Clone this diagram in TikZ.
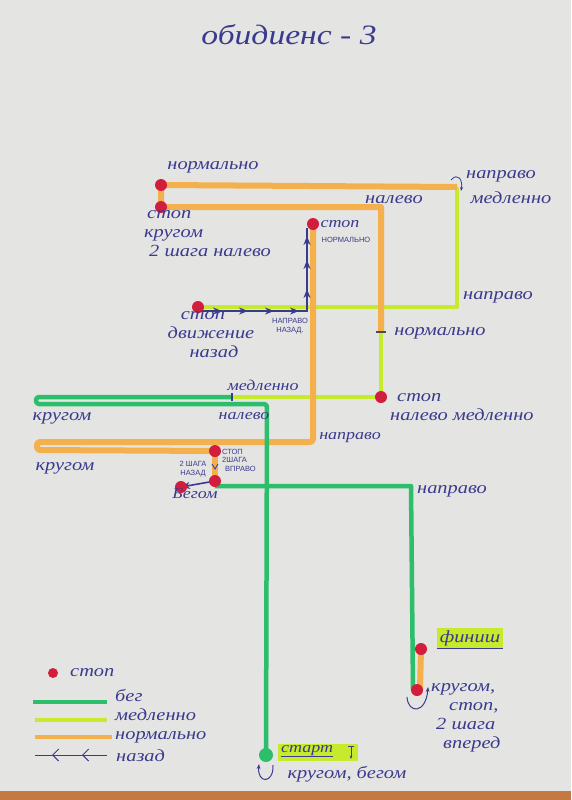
\documentclass[tikz,border=0pt]{standalone}
\usepackage{fontspec}
\setmainfont{Liberation Serif}
\setsansfont{Liberation Sans}
\newfontfamily\plume{Liberation Serif}[FakeStretch=1.2]
\usepackage{xcolor}
\usetikzlibrary{arrows.meta}

\definecolor{papier}{HTML}{E4E4E2}
\definecolor{bois}{HTML}{C47842}
\definecolor{encre}{HTML}{3A3A8E}
\definecolor{vertc}{HTML}{2DBE6C}
\definecolor{jaunec}{HTML}{C8EA2C}
\definecolor{orangec}{HTML}{F4B04C}
\definecolor{rouge}{HTML}{D21E3C}

\begin{document}
\begin{tikzpicture}[x=1pt, y=-1pt,
    course/.style={line width=4.5pt, vertc, line join=round},
    lent/.style={line width=4pt, jaunec, line join=round},
    allure/.style={line width=6pt, orangec, line join=round},
    recul/.style={line width=1.5pt, encre},
    pointe/.style={encre, line width=1.5pt, -{Stealth[length=9pt, width=7pt]}},
    arret/.style={circle, fill=rouge, inner sep=0pt, minimum size=12pt},
    etiq/.style={text=encre, inner sep=0pt, font=\plume\itshape\fontsize{17}{19}\selectfont},
    etiqp/.style={text=encre, inner sep=0pt, font=\plume\itshape\fontsize{15}{17}\selectfont},
    capit/.style={text=encre, inner sep=0pt, font=\sffamily\fontsize{7.5}{8.5}\selectfont}]

    % Feuille de papier
    \fill[papier] (0,0) rectangle (571,800);
    \fill[bois] (0,791) rectangle (571,800);

    % Points du parcours
    \coordinate (dep) at (266,755);   % старт
    \coordinate (c1) at (267,404);    % налево
    \coordinate (k1) at (36,404);     % кругом (bas)
    \coordinate (k2) at (36,397);     % кругом (haut)
    \coordinate (m1) at (232,397);    % медленно
    \coordinate (a1) at (381,397);    % стоп налево медленно
    \coordinate (n1) at (381,332);    % нормально
    \coordinate (c2) at (381,207);    % налево
    \coordinate (a2) at (161,207);    % стоп кругом
    \coordinate (a3) at (161,185);    % 2 шага налево
    \coordinate (c3) at (457,187);    % направо медленно
    \coordinate (c4) at (457,307);    % направо
    \coordinate (a4) at (198,307);    % стоп движение назад
    \coordinate (r1) at (199,311);    % début du recul
    \coordinate (r2) at (307,311);    % направо назад
    \coordinate (r3) at (307,228);    % fin du recul
    \coordinate (a5) at (313,224);    % стоп нормально
    \coordinate (c5) at (313,442);    % направо
    \coordinate (k3) at (37,442);     % кругом (haut)
    \coordinate (k4) at (37,450);     % кругом (bas)
    \coordinate (a6) at (215,451);    % стоп 2 шага вправо
    \coordinate (a7) at (215,481);    % 2 шага назад
    \coordinate (a8) at (181,487);    % бегом
    \coordinate (g1) at (215,486);    % début du бег
    \coordinate (c6) at (411,486);    % направо
    \coordinate (g2) at (413,690);    % кругом стоп
    \coordinate (a9) at (420,690);    % 2 шага вперед
    \coordinate (a10) at (421,649);   % финиш

    % --- Tronçons au pas lent ---
    \draw[lent] (m1) -- (a1) -- (n1);
    \draw[lent] (c3) -- (c4) -- (a4);

    % --- Tronçons au pas normal ---
    \draw[allure] (n1) -- (c2) -- (a2) -- (a3) -- (c3);
    \draw[allure, rounded corners=3pt] (a5) -- (c5) -- (k3) -- (k4) -- (a6);
    \draw[allure] (a6) -- (a7);
    \draw[allure] (a9) -- (a10);

    % --- Tronçons au pas de course ---
    \draw[course] (g1) -- (c6) -- (g2);
    \draw[course, rounded corners=3pt] (dep) -- (c1) -- (k1) -- (k2) -- (m1);

    % --- Déplacements en arrière ---
    \draw[recul] (r1) -- (r2) -- (r3);
    \foreach \x in {222,248,274,299}
        \draw[pointe] (\x-2,311) -- (\x,311);
    \foreach \y in {289,260,236}
        \draw[pointe] (307,\y+2) -- (307,\y);
    \draw[pointe, line width=1.6pt] (a7) -- (a8);

    % Petits repères
    \draw[black!70, line width=1.2pt] (376,332) -- (386,332);
    \draw[encre, line width=1.2pt] (232,393) -- (232,401);
    \draw[encre, line width=0.8pt] (212,464) -- (215,469) -- (218,464);

    % --- Points d'arrêt ---
    \foreach \p in {a1,a2,a3,a4,a5,a6,a7,a8,a10}
        \node[arret] (p-\p) at (\p) {};
    \node[arret] (p-a9) at (417,690) {};
    \node[circle, fill=vertc, inner sep=0pt, minimum size=14pt] (p-dep) at (dep) {};

    % Flèches de demi-tour
    \draw[encre, line width=1pt, -{Stealth[length=5pt]}]
        (273,765) .. controls (274,784) and (257,784) .. (259,764);
    \draw[encre, line width=1pt, -{Stealth[length=5pt]}]
        (407,697) .. controls (408,714) and (426,714) .. (428,687);
    \draw[encre, line width=0.8pt, -{Stealth[length=4pt]}]
        (451,180) .. controls (458,172) and (463,180) .. (461,191);

    % --- Titre ---
    \node[text=encre, font=\plume\itshape\fontsize{28}{30}\selectfont] (titre) at (289,35) {обидиенс - 3};

    % --- Consignes ---
    \node[etiq] (l1) at (213,167) {нормально};
    \node[etiq] (l2) at (394,200) {налево};
    \node[etiq, align=left, anchor=west] (l3) at (144,234) {\hspace*{3pt}стоп\\кругом\\\hspace*{5pt}2 шага налево};
    \node[etiqp] (l6) at (340,224) {стоп};
    \node[capit] (l7) at (346,240) {НОРМАЛЬНО};
    \node[etiq] (l8) at (501,176) {направо};
    \node[etiq] (l9) at (511,198) {медленно};
    \node[etiq] (l10) at (498,297) {направо};
    \node[etiq, align=center] (l11) at (211,335) {стоп\hspace*{16pt}\\движение\\\hspace*{6pt}назад};
    \node[capit, align=center] (l14) at (290,326) {НАПРАВО\\НАЗАД.};
    \node[etiq] (l16) at (440,333) {нормально};
    \node[etiqp] (l17) at (263,385) {медленно};
    \node[etiq, align=left, anchor=west] (l18) at (390,407) {\hspace*{7pt}стоп\\налево медленно};
    \node[etiq] (l20) at (62,418) {кругом};
    \node[etiqp] (l21) at (244,416) {налево};
    \node[etiq] (l22) at (65,468) {кругом};
    \node[etiqp] (l23) at (350,438) {направо};
    \node[capit, align=left, anchor=west] (l24) at (222,460) {СТОП\\2ШАГА\\\hspace*{3pt}ВПРАВО};
    \node[capit, align=center] (l27) at (193,469) {2 ШАГА\\НАЗАД};
    \node[etiqp] (l29) at (195,494) {Бегом};
    \node[etiq] (l30) at (452,491) {направо};
    \node[etiq, fill=jaunec, inner xsep=3pt, inner ysep=2pt] (fin) at (470,638) {финиш};
    \draw[encre, line width=0.8pt] (fin.south west) -- (fin.south east);
    \node[etiq, align=left, anchor=north west] (l31) at (431,683)
        {кругом,\\\hspace*{18pt}стоп,\\\hspace*{5pt}2 шага\\\hspace*{12pt}вперед};
    \fill[jaunec] (278,744) rectangle (358,761);
    \node[etiqp, anchor=west] (start) at (281,751) {старт};
    \draw[encre, line width=0.8pt] (start.south west) -- (start.south east);
    \coordinate (fl) at (351,746);
    \draw[encre, line width=0.8pt, -{Stealth[length=3.5pt]}] (fl) -- ++(0,13);
    \draw[encre, line width=0.8pt] (348,746) -- (354,746);
    \node[etiq] (l35) at (347,774) {кругом, бегом};

    % --- Légende ---
    \node[arret, minimum size=10pt] (leg-a) at (53,673) {};
    \node[etiq, anchor=west] (leg-la) at (70,673) {стоп};
    \draw[vertc, line width=4pt] (33,702) -- (107,702);
    \draw[jaunec, line width=4pt] (35,720) -- (107,720);
    \draw[orangec, line width=4.5pt] (35,737) -- (112,737);
    \node[etiq, align=left, anchor=west] (leg-lb) at (115,716) {бег\\медленно\\нормально};
    \draw[encre, line width=1pt] (107,755) -- (35,755);
    \foreach \x in {52,82}
        \draw[encre, line width=1pt, -{Straight Barb[length=6pt, width=12pt]}] (\x+2,755) -- (\x,755);
    \node[etiq, anchor=west] (leg-le) at (116,756) {назад};

\end{tikzpicture}
\end{document}
